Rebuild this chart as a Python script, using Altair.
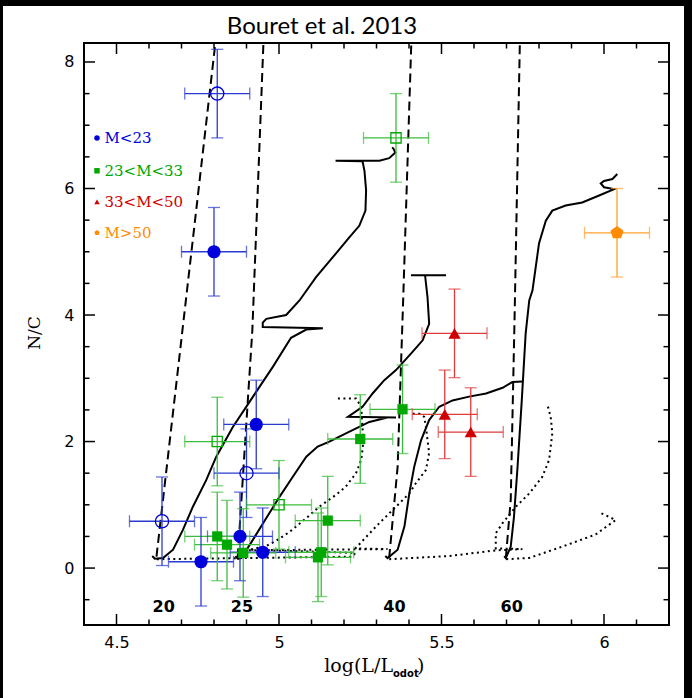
import altair as alt
import pandas as pd

# ---- observed stars: log(L/Lsun) and N/C ----
blue_filled_logL = [4.80, 4.93, 4.76, 4.88, 4.95]
blue_filled_nc = [5.00, 2.27, 0.10, 0.50, 0.25]
blue_open_logL = [4.81, 4.90, 4.64]
blue_open_nc = [7.50, 1.50, 0.74]
green_filled_logL = [4.81, 4.84, 4.89, 5.12, 5.13, 5.15, 5.25, 5.38]
green_filled_nc = [0.50, 0.37, 0.24, 0.17, 0.25, 0.75, 2.04, 2.51]
green_open_logL = [5.36, 4.81, 5.00]
green_open_nc = [6.80, 2.00, 1.00]
red_logL = [5.54, 5.51, 5.59]
red_nc = [3.71, 2.43, 2.15]
orange_logL = [6.04]
orange_nc = [5.30]
err_logL = 0.1
err_nc = 0.7

# ---- evolutionary tracks (solid: rotating, dashed: isochrone-like, dotted: second set) ----
solid20_logL = [4.610, 4.618, 4.643, 4.674, 4.704, 4.735, 4.776, 4.807, 4.858, 4.920, 4.981,
                5.037, 5.084, 5.135, 4.950, 4.950, 4.961, 5.022, 5.063, 5.114, 5.165, 5.217,
                5.247, 5.266, 5.268, 5.263, 5.257, 5.174, 5.309, 5.339, 5.358, 5.352, 5.348]
solid20_nc = [0.19, 0.147, 0.158, 0.29, 0.60, 0.97, 1.39, 1.76, 2.23, 2.71, 3.18,
              3.64, 3.77, 3.79, 3.81, 3.88, 3.94, 4.00, 4.23, 4.60, 4.91, 5.23,
              5.41, 5.65, 5.97, 6.28, 6.43, 6.44, 6.44, 6.48, 6.57, 6.63, 6.65]
solid25_logL = [4.866, 4.873, 4.884, 4.920, 4.961, 5.002, 5.042, 5.084, 5.119, 5.155, 5.206,
                5.278, 5.334, 5.360, 5.212, 5.257, 5.288, 5.324, 5.360, 5.406, 5.442, 5.462,
                5.457, 5.450, 5.450, 5.406, 5.514]
solid25_nc = [0.19, 0.147, 0.158, 0.45, 0.79, 1.13, 1.44, 1.76, 1.92, 2.00, 2.13,
              2.31, 2.38, 2.38, 2.39, 2.55, 2.76, 2.97, 3.13, 3.39, 3.60, 3.86,
              4.28, 4.60, 4.63, 4.63, 4.63]
solid40_logL = [5.327, 5.334, 5.365, 5.386, 5.401, 5.416, 5.437, 5.462, 5.493, 5.534, 5.585,
                5.637, 5.688, 5.718, 5.749]
solid40_nc = [0.19, 0.158, 0.29, 0.66, 1.18, 1.60, 2.02, 2.34, 2.55, 2.65, 2.71,
              2.76, 2.85, 2.94, 2.95]
solid60_logL = [5.693, 5.698, 5.713, 5.723, 5.734, 5.747, 5.759, 5.770, 5.780, 5.800, 5.821,
                5.841, 5.882, 5.933, 5.985, 6.031, 6.000, 5.990, 6.000, 6.026, 6.041]
solid60_nc = [0.19, 0.158, 0.34, 0.81, 1.60, 2.65, 3.71, 4.23, 4.39, 5.13, 5.49,
              5.65, 5.73, 5.78, 5.89, 5.99, 6.02, 6.08, 6.12, 6.15, 6.23]

dash20_logL = [4.623, 4.804]
dash20_nc = [0.18, 8.29]
dash25_logL = [4.873, 4.918, 4.952]
dash25_nc = [0.17, 3.76, 8.29]
dash40_logL = [5.339, 5.365, 5.382, 5.407]
dash40_nc = [0.16, 1.60, 4.23, 8.29]
dash60_logL = [5.698, 5.713, 5.725, 5.741]
dash60_nc = [0.16, 1.08, 4.00, 8.29]

dot20_logL = [4.624, 5.226, 5.235, 4.909, 4.961, 4.991, 5.032, 5.084, 5.124, 5.176, 5.206, 5.237,
              5.253, 5.258, 5.258, 5.253, 5.237, 5.176]
dot20_nc = [0.14, 0.18, 0.24, 0.29, 0.35, 0.43, 0.57, 0.79, 0.97, 1.16, 1.29, 1.50,
            1.71, 1.92, 2.13, 2.55, 2.68, 2.68]
dot25_logL = [4.873, 4.887, 5.334, 5.235, 5.299, 5.360, 5.401, 5.421, 5.452, 5.462, 5.457,
              5.452, 5.447, 5.432, 5.406]
dot25_nc = [0.14, 0.28, 0.30, 0.31, 0.66, 0.97, 1.18, 1.34, 1.55, 1.82, 2.02,
            2.23, 2.39, 2.44, 2.44]
dot40_logL = [5.339, 5.524, 5.667, 5.749, 5.667, 5.667, 5.688, 5.729, 5.770, 5.810, 5.831,
              5.841, 5.836, 5.826]
dot40_nc = [0.14, 0.19, 0.28, 0.30, 0.31, 0.55, 0.71, 0.97, 1.18, 1.44, 1.71,
            2.13, 2.39, 2.58]
dot60_logL = [5.699, 5.770, 5.872, 5.974, 6.036, 5.990]
dot60_nc = [0.14, 0.16, 0.34, 0.53, 0.76, 0.87]

mass_labels = ["20", "25", "40", "60"]
mass_label_logL = [4.645, 4.886, 5.355, 5.716]
mass_label_nc = -0.62

legend_labels = ["M<23", "23<M<33", "33<M<50", "M>50"]
legend_nc = [6.80, 6.28, 5.79, 5.30]

x_major = [4.5, 5.0, 5.5, 6.0]
x_minor = [4.6, 4.7, 4.8, 4.9, 5.1, 5.2, 5.3, 5.4, 5.6, 5.7, 5.8, 5.9, 6.1]
y_major = [0, 2, 4, 6, 8]
y_minor = [-0.5, 0.5, 1, 1.5, 2.5, 3, 3.5, 4.5, 5, 5.5, 6.5, 7, 7.5]

# ---- styling ----
W, H = 585, 582
marker_color = {"M<23": "#0000dd", "23<M<33": "#00a800", "33<M<50": "#d00000", "M>50": "#ff8c00"}
bar_color = {"M<23": "#2a3bd0", "23<M<33": "#3cbc3c", "33<M<50": "#e03a3a", "M>50": "#ffa030"}
pentagon = "M0,-1L0.951,-0.309L0.588,0.809L-0.588,0.809L-0.951,-0.309Z"
marker_shape = {"M<23": "circle", "23<M<33": "square", "33<M<50": "triangle-up", "M>50": pentagon}
marker_size = {"M<23": 175, "23<M<33": 105, "33<M<50": 150, "M>50": 190}

rows = []
for grp, xs_, ys_, filled in [
    ("M<23", blue_filled_logL, blue_filled_nc, True),
    ("M<23", blue_open_logL, blue_open_nc, False),
    ("23<M<33", green_filled_logL, green_filled_nc, True),
    ("23<M<33", green_open_logL, green_open_nc, False),
    ("33<M<50", red_logL, red_nc, True),
    ("M>50", orange_logL, orange_nc, True),
]:
    for xv, yv in zip(xs_, ys_):
        rows.append(dict(logL=xv, nc=yv, group=grp, filled=filled))
stars = pd.DataFrame(rows)
stars["xlo"] = stars.logL - err_logL
stars["xhi"] = stars.logL + err_logL
stars["ylo"] = stars.nc - err_nc
stars["yhi"] = stars.nc + err_nc
stars["mcol"] = stars.group.map(marker_color)
stars["ecol"] = stars.group.map(bar_color)
stars["shape"] = stars.group.map(marker_shape)
stars["msize"] = stars.group.map(marker_size)

caps_v = pd.concat([
    pd.DataFrame({"cx": stars.xlo, "cy": stars.nc, "ecol": stars.ecol}),
    pd.DataFrame({"cx": stars.xhi, "cy": stars.nc, "ecol": stars.ecol}),
])
caps_h = pd.concat([
    pd.DataFrame({"cx": stars.logL, "cy": stars.ylo, "ecol": stars.ecol}),
    pd.DataFrame({"cx": stars.logL, "cy": stars.yhi, "ecol": stars.ecol}),
])


def track_frame(style, tracks):
    out = []
    for name, xs_, ys_ in tracks:
        for i, (xv, yv) in enumerate(zip(xs_, ys_)):
            out.append(dict(track=name, i=i, logL=xv, nc=yv, style=style))
    return pd.DataFrame(out)


solid = track_frame("solid", [("20", solid20_logL, solid20_nc), ("25", solid25_logL, solid25_nc),
                              ("40", solid40_logL, solid40_nc), ("60", solid60_logL, solid60_nc)])
dashed = track_frame("dashed", [("20", dash20_logL, dash20_nc), ("25", dash25_logL, dash25_nc),
                                ("40", dash40_logL, dash40_nc), ("60", dash60_logL, dash60_nc)])
dotted = track_frame("dotted", [("20", dot20_logL, dot20_nc), ("25", dot25_logL, dot25_nc),
                                ("40", dot40_logL, dot40_nc), ("60", dot60_logL, dot60_nc)])

xs = alt.Scale(domain=[4.4, 6.2], nice=False, zero=False)
ys = alt.Scale(domain=[-0.9, 8.3], nice=False, zero=False)
x_axis = alt.Axis(values=x_major, format="~g", title=None, domain=False, ticks=False, grid=False,
                  labelFont="DejaVu Sans", labelFontSize=16, labelColor="black", labelPadding=9,
                  zindex=2)
y_axis = alt.Axis(values=y_major, format="d", title=None, domain=False, ticks=False, grid=False,
                  labelFont="DejaVu Sans", labelFontSize=16, labelColor="black", labelPadding=10,
                  zindex=2)

one = pd.DataFrame({"a": [0]})

# white page over a black border
page = alt.Chart(one).mark_rect(color="white").encode(
    x=alt.value(-81), x2=alt.value(W + 15), y=alt.value(-37), y2=alt.value(H + 73))


def lines(df, **mark):
    return alt.Chart(df).mark_line(clip=True, color="black", strokeWidth=2, **mark).encode(
        x=alt.X("logL:Q", scale=xs, axis=x_axis), y=alt.Y("nc:Q", scale=ys, axis=y_axis),
        detail="track:N", order="i:Q")


solid_l = lines(solid)
dashed_l = lines(dashed, strokeDash=[9, 5])
dotted_l = lines(dotted, strokeDash=[2, 3.5])

hbar = alt.Chart(stars).mark_rule(strokeWidth=1.3).encode(
    x=alt.X("xlo:Q", scale=xs, axis=x_axis), x2="xhi:Q", y=alt.Y("nc:Q", scale=ys, axis=y_axis),
    color=alt.Color("ecol:N", scale=None))
vbar = alt.Chart(stars).mark_rule(strokeWidth=1.3).encode(
    x=alt.X("logL:Q", scale=xs, axis=x_axis), y=alt.Y("ylo:Q", scale=ys, axis=y_axis), y2="yhi:Q",
    color=alt.Color("ecol:N", scale=None))
cap_v = alt.Chart(caps_v).mark_tick(orient="vertical", size=12, thickness=1.3).encode(
    x=alt.X("cx:Q", scale=xs, axis=x_axis), y=alt.Y("cy:Q", scale=ys, axis=y_axis),
    color=alt.Color("ecol:N", scale=None))
cap_h = alt.Chart(caps_h).mark_tick(orient="horizontal", size=12, thickness=1.3).encode(
    x=alt.X("cx:Q", scale=xs, axis=x_axis), y=alt.Y("cy:Q", scale=ys, axis=y_axis),
    color=alt.Color("ecol:N", scale=None))

filled_pts = alt.Chart(stars).transform_filter("datum.filled").mark_point(
    filled=True, opacity=1, strokeWidth=0).encode(
    x=alt.X("logL:Q", scale=xs, axis=x_axis), y=alt.Y("nc:Q", scale=ys, axis=y_axis),
    shape=alt.Shape("shape:N", scale=None), size=alt.Size("msize:Q", scale=None),
    color=alt.Color("mcol:N", scale=None))
open_pts = alt.Chart(stars).transform_filter("!datum.filled").mark_point(
    filled=False, opacity=1, strokeWidth=1.3).encode(
    x=alt.X("logL:Q", scale=xs, axis=x_axis), y=alt.Y("nc:Q", scale=ys, axis=y_axis),
    shape=alt.Shape("shape:N", scale=None), size=alt.Size("msize:Q", scale=None),
    color=alt.Color("mcol:N", scale=None))

# legend drawn inside the frame
leg = pd.DataFrame({"label": legend_labels, "nc": legend_nc,
                    "mcol": [marker_color[g] for g in legend_labels],
                    "shape": [marker_shape[g] for g in legend_labels],
                    "logL": 4.44, "tx": 4.463})
leg_pts = alt.Chart(leg).mark_point(filled=True, opacity=1, size=30, strokeWidth=0).encode(
    x=alt.X("logL:Q", scale=xs, axis=x_axis), y=alt.Y("nc:Q", scale=ys, axis=y_axis),
    shape=alt.Shape("shape:N", scale=None), color=alt.Color("mcol:N", scale=None))
leg_txt = alt.Chart(leg).mark_text(align="left", baseline="middle", font="DejaVu Serif",
                                   fontSize=15).encode(
    x=alt.X("tx:Q", scale=xs, axis=x_axis), y=alt.Y("nc:Q", scale=ys, axis=y_axis), text="label:N",
    color=alt.Color("mcol:N", scale=None))

masses = pd.DataFrame({"label": mass_labels, "logL": mass_label_logL, "nc": mass_label_nc})
mass_txt = alt.Chart(masses).mark_text(font="DejaVu Sans", fontWeight="bold", fontSize=16,
                                       baseline="middle", color="black").encode(
    x=alt.X("logL:Q", scale=xs, axis=x_axis), y=alt.Y("nc:Q", scale=ys, axis=y_axis), text="label:N")


def tick_layer(vals, axis, length):
    d = alt.Chart(pd.DataFrame({"v": vals})).mark_rule(color="black", strokeWidth=1.5)
    if axis == "bottom":
        return d.encode(x=alt.X("v:Q", scale=xs, axis=x_axis), y=alt.value(H), y2=alt.value(H - length))
    if axis == "top":
        return d.encode(x=alt.X("v:Q", scale=xs, axis=x_axis), y=alt.value(0), y2=alt.value(length))
    if axis == "left":
        return d.encode(y=alt.Y("v:Q", scale=ys, axis=y_axis), x=alt.value(0), x2=alt.value(length))
    return d.encode(y=alt.Y("v:Q", scale=ys, axis=y_axis), x=alt.value(W), x2=alt.value(W - length))


ticks = [tick_layer(x_major, s, 11) for s in ("bottom", "top")] + \
        [tick_layer(x_minor, s, 5.5) for s in ("bottom", "top")] + \
        [tick_layer(y_major, s, 11) for s in ("left", "right")] + \
        [tick_layer(y_minor, s, 5.5) for s in ("left", "right")]

frame = alt.Chart(one).mark_rect(filled=False, stroke="black", strokeWidth=2).encode(
    x=alt.value(0), x2=alt.value(W), y=alt.value(0), y2=alt.value(H))

title = alt.Chart(one).mark_text(text="Bouret et al. 2013", font="Lato", fontSize=24,
                                 align="center", baseline="alphabetic", color="black").encode(
    x=alt.value(238), y=alt.value(-9))
ylab = alt.Chart(one).mark_text(text="N/C", font="DejaVu Serif", fontSize=17, angle=270,
                                align="center", baseline="middle", color="black").encode(
    x=alt.value(-49), y=alt.value(290))
xlab_main = alt.Chart(one).mark_text(text="log(L/L", font="DejaVu Serif", fontSize=19,
                                     align="right", baseline="alphabetic", color="black").encode(
    x=alt.value(309), y=alt.value(629))
xlab_sub = alt.Chart(one).mark_text(text="odot", font="DejaVu Sans", fontWeight="bold", fontSize=10,
                                    align="left", baseline="alphabetic", color="black").encode(
    x=alt.value(309), y=alt.value(634))
xlab_close = alt.Chart(one).mark_text(text=")", font="DejaVu Serif", fontSize=19,
                                      align="left", baseline="alphabetic", color="black").encode(
    x=alt.value(333), y=alt.value(629))

chart = alt.layer(
    page, dotted_l, dashed_l, solid_l, hbar, vbar, cap_v, cap_h, filled_pts, open_pts,
    leg_pts, leg_txt, mass_txt, *ticks, frame, title, ylab, xlab_main, xlab_sub, xlab_close
).properties(
    width=W, height=H,
    autosize=alt.AutoSizeParams(type="none"),
    padding={"left": 84, "top": 43, "right": 23, "bottom": 73},
    background="black",
).configure_view(strokeWidth=0)

chart.save("out.html", embed_options={"renderer": "svg", "actions": False})
